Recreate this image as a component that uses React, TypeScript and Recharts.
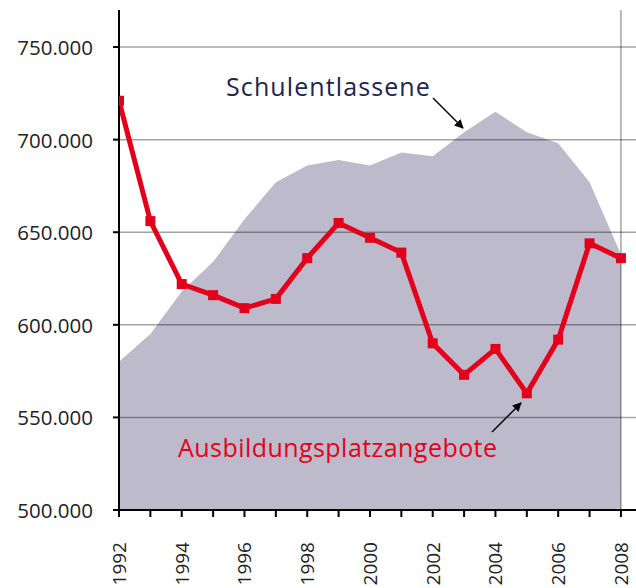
import React from "react";
import { ComposedChart, Area, Line, XAxis, YAxis, ReferenceLine } from "recharts";

const years = [1992, 1993, 1994, 1995, 1996, 1997, 1998, 1999, 2000, 2001, 2002, 2003, 2004, 2005, 2006, 2007, 2008];
const schulentlassene = [580000, 595000, 618000, 634000, 657000, 677000, 686000, 689000, 686000, 693000, 691000, 704000, 715000, 704000, 698000, 677000, 638000];
const ausbildungsplatzangebote = [721000, 656000, 622000, 616000, 609000, 614000, 636000, 655000, 647000, 639000, 590000, 573000, 587000, 563000, 592000, 644000, 636000];
const yTicks = [500000, 550000, 600000, 650000, 700000, 750000];
const gridValues = [550000, 600000, 650000, 700000, 750000];
const labelYears = [1992, 1994, 1996, 1998, 2000, 2002, 2004, 2006, 2008];

const data = years.map((y, i) => ({
  year: y,
  schul: schulentlassene[i],
  ausb: ausbildungsplatzangebote[i],
}));

const RED = "#e3001b";
const AREA = "#bdbacc";
const GRID = "rgba(0,0,0,0.36)";
const FONT = "'Open Sans', 'DejaVu Sans', sans-serif";

const fmt = (v: number) => (v / 1000).toFixed(3);

const YTick = (props: any) => {
  const { x, y, payload } = props;
  return (
    <text x={x} y={y} textAnchor="end" dominantBaseline="central" fontSize={20.5} fill="#222" fontFamily={FONT}>
      {fmt(payload.value)}
    </text>
  );
};

const XTick = (props: any) => {
  const { x, y, payload } = props;
  if (!labelYears.includes(payload.value)) return <g />;
  return (
    <text
      x={x}
      y={y}
      transform={`rotate(-90, ${x}, ${y})`}
      textAnchor="end"
      dominantBaseline="central"
      fontSize={19}
      fill="#222"
      fontFamily={FONT}
    >
      {payload.value}
    </text>
  );
};

const SquareDot = (props: any) => {
  const { cx, cy } = props;
  if (cx == null || cy == null) return <g />;
  return <rect x={cx - 5} y={cy - 5} width={10} height={10} fill={RED} />;
};

export default function App() {
  return (
    <div style={{ position: "absolute", left: 0, top: 0, width: 636, height: 588, background: "#fff" }}>
      <ComposedChart width={636} height={588} data={data} margin={{ top: 10, right: 0, left: 0, bottom: 0 }}>
        <XAxis
          dataKey="year"
          type="number"
          domain={[1992, 2008.48]}
          allowDataOverflow
          ticks={years}
          interval={0}
          height={78}
          tickSize={7}
          tickMargin={25}
          tickLine={{ stroke: "#000", strokeWidth: 2 }}
          axisLine={{ stroke: "#000", strokeWidth: 2 }}
          tick={<XTick />}
        />
        <YAxis
          type="number"
          domain={[500000, 770000]}
          allowDataOverflow
          ticks={yTicks}
          interval={0}
          width={119}
          tickSize={6}
          tickMargin={20}
          tickLine={{ stroke: "#000", strokeWidth: 2 }}
          axisLine={{ stroke: "#000", strokeWidth: 2 }}
          tick={<YTick />}
        />
        <Area
          dataKey="schul"
          type="linear"
          fill={AREA}
          fillOpacity={1}
          stroke="none"
          isAnimationActive={false}
          baseValue={500000}
        />
        {gridValues.map((v) => (
          <ReferenceLine key={v} y={v} stroke={GRID} strokeWidth={1.5} />
        ))}
        <ReferenceLine x={2008} stroke={GRID} strokeWidth={1.5} />
        <Line
          dataKey="ausb"
          type="linear"
          stroke={RED}
          strokeWidth={5}
          dot={<SquareDot />}
          activeDot={false}
          isAnimationActive={false}
        />
      </ComposedChart>
      <svg width={636} height={588} style={{ position: "absolute", left: 0, top: 0, pointerEvents: "none" }}>
        <defs>
          <marker id="arr" viewBox="0 0 10 10" refX="9" refY="5" markerWidth="9" markerHeight="9" markerUnits="userSpaceOnUse" orient="auto">
            <path d="M0,0 L10,5 L0,10 z" fill="#000" />
          </marker>
        </defs>
        <text x={226} y={96} fontSize={25} fill="#23234f" fontFamily={FONT} letterSpacing={1.1}>
          Schulentlassene
        </text>
        <line x1={433} y1={98} x2={463} y2={128} stroke="#000" strokeWidth={1.5} markerEnd="url(#arr)" />
        <text x={178} y={457} fontSize={25} fill={RED} fontFamily={FONT} letterSpacing={0.45}>
          Ausbildungsplatzangebote
        </text>
        <line x1={492} y1={432} x2={521} y2={403} stroke="#000" strokeWidth={1.5} markerEnd="url(#arr)" />
      </svg>
    </div>
  );
}
